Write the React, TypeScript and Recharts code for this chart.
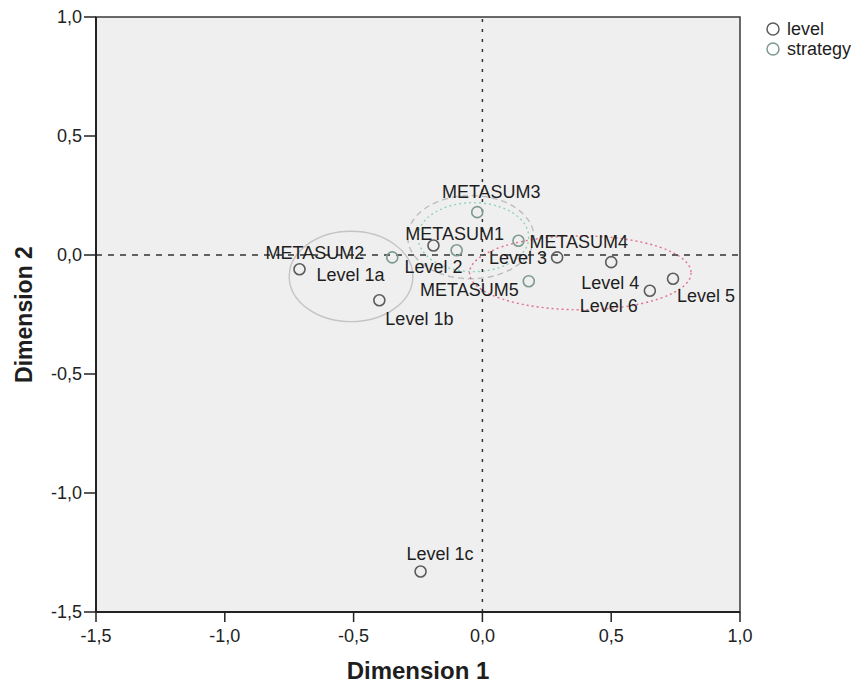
import { ScatterChart, Scatter, XAxis, YAxis, ReferenceLine, ReferenceArea, Label } from "recharts";

// category points
const levelNames = ["Level 1a", "Level 1b", "Level 1c", "Level 2", "Level 3", "Level 4", "Level 5", "Level 6"];
const levelDim1 = [-0.71, -0.4, -0.24, -0.19, 0.29, 0.5, 0.74, 0.65];
const levelDim2 = [-0.06, -0.19, -1.33, 0.04, -0.01, -0.03, -0.1, -0.15];

const strategyNames = ["METASUM1", "METASUM2", "METASUM3", "METASUM4", "METASUM5"];
const strategyDim1 = [-0.1, -0.35, -0.02, 0.14, 0.18];
const strategyDim2 = [0.02, -0.01, 0.18, 0.06, -0.11];

const axisTicks = [-1.5, -1.0, -0.5, 0, 0.5, 1.0];
const legendNames = ["level", "strategy"];

// cluster outlines as [x1, x2, y1, y2]
const clusterLeft = [-0.75, -0.27, 0.1, -0.28];
const clusterMiddle = [-0.29, 0.2, 0.25, -0.1];
const clusterStrategy = [-0.25, 0.18, 0.22, -0.07];
const clusterRight = [-0.05, 0.81, 0.08, -0.23];

const levelData = levelNames.map((name, i) => ({ name, x: levelDim1[i], y: levelDim2[i] }));
const strategyData = strategyNames.map((name, i) => ({ name, x: strategyDim1[i], y: strategyDim2[i] }));

const LEVEL_COLOR = "#5c5c5c";
const STRATEGY_COLOR = "#7c9a90";
const FONT = "'Liberation Sans', Arial, sans-serif";

// where each point's text sits relative to its circle
const LABEL_POS: Record<string, { anchor: "start" | "middle" | "end"; dx: number; dy: number }> = {
  "Level 1a": { anchor: "start", dx: 17, dy: 12 },
  "Level 1b": { anchor: "start", dx: 6, dy: 25 },
  "Level 1c": { anchor: "start", dx: -14, dy: -12 },
  "Level 2": { anchor: "middle", dx: 0, dy: 28 },
  "Level 3": { anchor: "end", dx: -10, dy: 7 },
  "Level 4": { anchor: "middle", dx: -1, dy: 27 },
  "Level 5": { anchor: "start", dx: 4, dy: 23 },
  "Level 6": { anchor: "end", dx: -12, dy: 21 },
  METASUM1: { anchor: "middle", dx: -2, dy: -10 },
  METASUM2: { anchor: "end", dx: -28, dy: 2 },
  METASUM3: { anchor: "middle", dx: 14, dy: -14 },
  METASUM4: { anchor: "start", dx: 11, dy: 7 },
  METASUM5: { anchor: "end", dx: -10, dy: 15 },
};

const fmt = (v: number) => v.toFixed(1).replace(".", ",");

const pointShape = (color: string) => (p: any) => {
  const pos = LABEL_POS[p.payload.name];
  return (
    <g>
      <circle cx={p.cx} cy={p.cy} r={5.5} fill="none" stroke={color} strokeWidth={1.6} />
      <text x={p.cx + pos.dx} y={p.cy + pos.dy} textAnchor={pos.anchor} fontSize={18} fill="#1e1e1e">
        {p.payload.name}
      </text>
    </g>
  );
};

const ellipse = (stroke: string, dash?: string) => (p: any) => (
  <ellipse
    cx={p.x + p.width / 2}
    cy={p.y + p.height / 2}
    rx={Math.abs(p.width) / 2}
    ry={Math.abs(p.height) / 2}
    fill="none"
    stroke={stroke}
    strokeWidth={1.4}
    strokeDasharray={dash}
  />
);

const cluster = (c: number[], stroke: string, dash?: string) => (
  <ReferenceArea x1={c[0]} x2={c[1]} y1={c[2]} y2={c[3]} shape={ellipse(stroke, dash)} />
);

export default function App() {
  return (
    <div style={{ position: "absolute", left: 0, top: 0, width: 861, height: 684, background: "#fff", fontFamily: FONT }}>
      <ScatterChart width={861} height={684} margin={{ top: 17, right: 121, bottom: 0, left: 0 }} style={{ fontFamily: FONT }}>
        <ReferenceArea x1={-1.5} x2={1} y1={-1.5} y2={1} fill="#efefef" fillOpacity={1} stroke="#3a3a3a" strokeWidth={1.5} />
        <XAxis
          type="number"
          dataKey="x"
          domain={[-1.5, 1]}
          ticks={axisTicks}
          tickFormatter={fmt}
          tick={{ fill: "#222", fontSize: 18 }}
          tickSize={10}
          tickMargin={7}
          axisLine={{ stroke: "#222", strokeWidth: 2 }}
          tickLine={{ stroke: "#222", strokeWidth: 1.5 }}
          height={72}
          allowDataOverflow
        >
          <Label value="Dimension 1" position="insideBottom" offset={5} style={{ fontSize: 24, fontWeight: 700, fill: "#1e1e1e" }} />
        </XAxis>
        <YAxis
          type="number"
          dataKey="y"
          domain={[-1.5, 1]}
          ticks={axisTicks}
          tickFormatter={fmt}
          tick={{ fill: "#222", fontSize: 18 }}
          tickSize={12}
          tickMargin={2}
          axisLine={{ stroke: "#222", strokeWidth: 2 }}
          tickLine={{ stroke: "#222", strokeWidth: 1.5 }}
          width={96}
          allowDataOverflow
        >
          <Label
            content={(props: any) => {
              const vb = props.viewBox;
              const cx = vb.x + 32;
              const cy = vb.y + vb.height / 2;
              return (
                <text x={cx} y={cy} transform={`rotate(-90 ${cx} ${cy})`} textAnchor="middle" fontSize={23} fontWeight={700} fill="#1e1e1e">
                  Dimension 2
                </text>
              );
            }}
          />
        </YAxis>
        {cluster(clusterLeft, "#c4c4c4")}
        {cluster(clusterMiddle, "#bdbdbd", "6 4")}
        {cluster(clusterStrategy, "#8fd3b8", "2 3")}
        {cluster(clusterRight, "#e0708c", "2 3")}
        <ReferenceLine x={0} stroke="#333" strokeDasharray="3 7" strokeWidth={1.5} />
        <ReferenceLine y={0} stroke="#333" strokeDasharray="6 6" strokeWidth={1.5} />
        <Scatter name="level" data={levelData} shape={pointShape(LEVEL_COLOR)} isAnimationActive={false} />
        <Scatter name="strategy" data={strategyData} shape={pointShape(STRATEGY_COLOR)} isAnimationActive={false} />
      </ScatterChart>
      <div style={{ position: "absolute", left: 765, top: 19, fontSize: 18, color: "#1e1e1e", lineHeight: "20px" }}>
        {legendNames.map((n, i) => (
          <div key={n} style={{ display: "flex", alignItems: "center" }}>
            <svg width={22} height={20}>
              <circle cx={8} cy={10} r={6} fill="none" stroke={i === 0 ? LEVEL_COLOR : STRATEGY_COLOR} strokeWidth={1.5} />
            </svg>
            <span>{n}</span>
          </div>
        ))}
      </div>
    </div>
  );
}
